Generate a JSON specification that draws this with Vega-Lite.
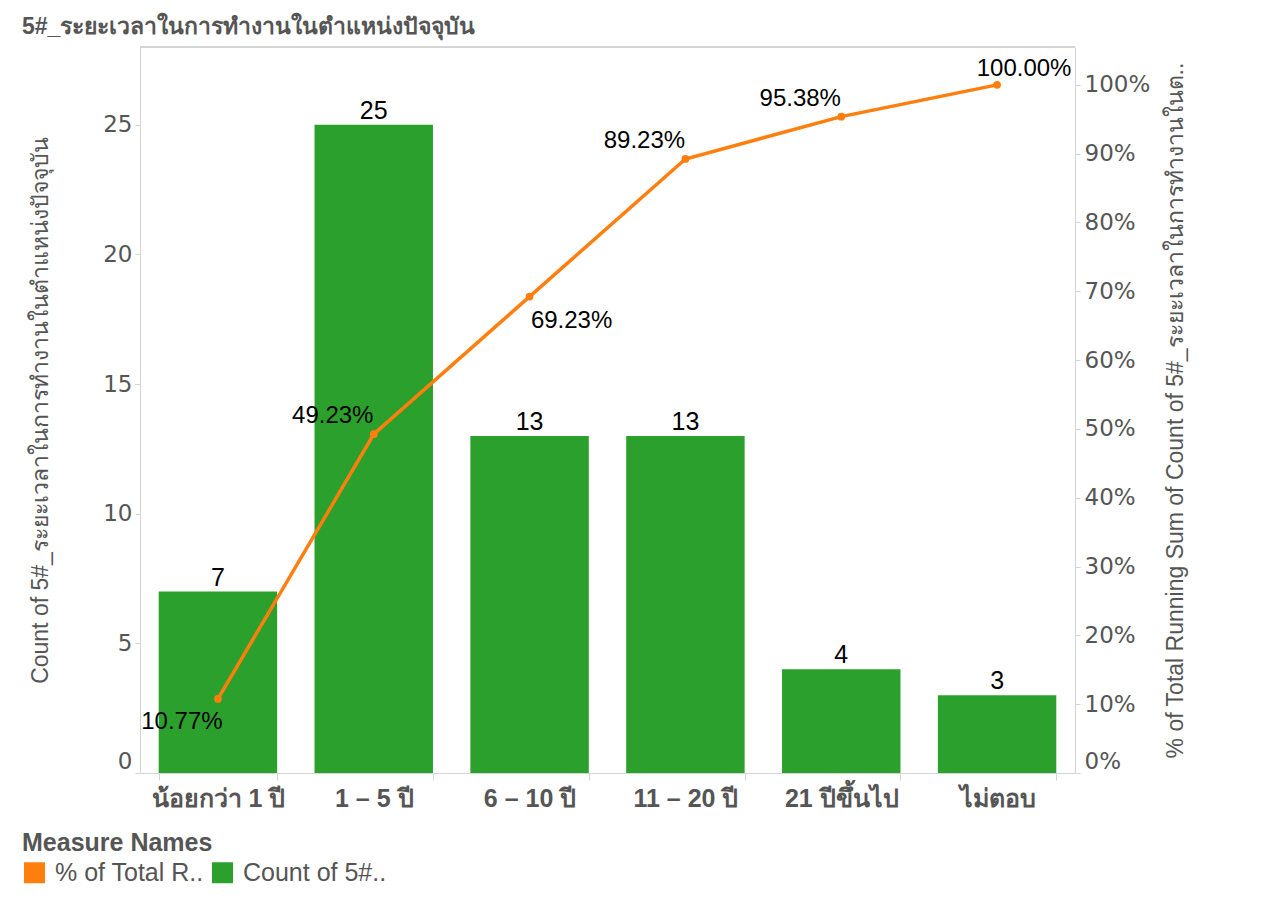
{
  "$schema": "https://vega.github.io/schema/vega-lite/v6.json",
  "width": 935,
  "height": 726,
  "autosize": {"type": "none"},
  "padding": {"left": 140, "top": 47, "right": 202, "bottom": 138},
  "background": "white",
  "title": {
    "text": "5#_ระยะเวลาในการทำงานในตำแหน่งปัจจุบัน",
    "anchor": "start",
    "frame": "group",
    "dx": -118,
    "offset": 8,
    "fontSize": 23,
    "fontWeight": "bold",
    "color": "#555555",
    "font": "Liberation Sans"
  },
  "config": {
    "view": {"stroke": null},
    "axis": {"grid": false, "domainColor": "#d4d4d4", "tickColor": "#d4d4d4", "labelColor": "#555555", "titleColor": "#555555", "labelFont": "DejaVu Sans", "titleFont": "Liberation Sans"}
  },
  "data": {
    "values": [
      {"cat": "น้อยกว่า 1 ปี", "count": 7, "cum": 0.1077},
      {"cat": "1 – 5 ปี", "count": 25, "cum": 0.4923},
      {"cat": "6 – 10 ปี", "count": 13, "cum": 0.6923},
      {"cat": "11 – 20 ปี", "count": 13, "cum": 0.8923},
      {"cat": "21 ปีขึ้นไป", "count": 4, "cum": 0.9538},
      {"cat": "ไม่ตอบ", "count": 3, "cum": 1.0}
    ]
  },
  "layer": [
    {
      "mark": {"type": "rule", "color": "#d4d4d4", "strokeWidth": 1},
      "encoding": {"y": {"datum": 28, "type": "quantitative", "scale": {"domain": [0, 28], "nice": false}, "axis": null}}
    },
    {
      "encoding": {
        "x": {
          "field": "cat",
          "type": "nominal",
          "sort": null,
          "scale": {"paddingInner": 0.24, "paddingOuter": 0.12},
          "axis": {"title": null, "labelAngle": 0, "labelFontSize": 25, "labelFontWeight": "bold", "labelFont": "Liberation Sans", "labelPadding": 6, "tickBand": "extent", "tickSize": 7, "domainColor": "#d4d4d4"}
        },
        "y": {
          "field": "count",
          "type": "quantitative",
          "scale": {"domain": [0, 28], "nice": false},
          "axis": {"title": "Count of 5#_ระยะเวลาในการทำงานในตำแหน่งปัจจุบัน", "values": [0, 5, 10, 15, 20, 25], "labelFontSize": 23, "labelFlush": true, "titleFontSize": 23, "titleFontWeight": "normal", "titleLimit": 760, "tickSize": 5, "labelPadding": 3, "titlePadding": 50}
        }
      },
      "layer": [
        {
          "mark": {"type": "bar"},
          "encoding": {
            "color": {
              "datum": "Count of 5#..",
              "type": "nominal",
              "title": "Measure Names",
              "scale": {"domain": ["% of Total R..", "Count of 5#.."], "range": ["#ff7f0e", "#2ca02c"]},
              "legend": {"orient": "none", "legendX": -118, "legendY": 784, "direction": "horizontal", "titleFontSize": 25, "titleFontWeight": "bold", "titleColor": "#555555", "titleFont": "Liberation Sans", "titleLimit": 400, "labelFontSize": 25, "labelColor": "#555555", "labelFont": "Liberation Sans", "labelLimit": 400, "symbolType": "square", "symbolSize": 440, "symbolStrokeWidth": 0, "columnPadding": 6, "labelOffset": 8, "titlePadding": 4}
            }
          }
        },
        {
          "mark": {"type": "text", "baseline": "bottom", "dy": -1, "fontSize": 25, "font": "Liberation Sans", "color": "black"},
          "encoding": {"text": {"field": "count", "type": "quantitative"}}
        }
      ]
    },
    {
      "encoding": {
        "x": {
          "field": "cat",
          "type": "nominal",
          "sort": null
        },
        "y": {
          "field": "cum",
          "type": "quantitative",
          "scale": {"domain": [0, 1.055], "nice": false},
          "axis": {"orient": "right", "title": "% of Total Running Sum of Count of 5#_ระยะเวลาในการทำงานในต..", "titleAngle": 270, "titleLimit": 760, "values": [0, 0.1, 0.2, 0.3, 0.4, 0.5, 0.6, 0.7, 0.8, 0.9, 1.0], "format": ".0%", "labelFontSize": 23, "labelFlush": true, "titleFontSize": 23, "titleFontWeight": "normal", "tickSize": 5, "labelPadding": 4, "titlePadding": 38}
        }
      },
      "layer": [
        {
          "mark": {"type": "line", "strokeWidth": 3.5, "point": {"filled": true, "size": 60}},
          "encoding": {"color": {"datum": "% of Total R..", "type": "nominal"}}
        },
        {
          "transform": [{"filter": "datum.cum > 0.3 && datum.cum < 0.6 || datum.cum > 0.8 && datum.cum < 0.99"}],
          "mark": {"type": "text", "dx": -41, "dy": -18, "fontSize": 24, "font": "Liberation Sans", "color": "black"},
          "encoding": {"text": {"field": "cum", "type": "quantitative", "format": ".2%"}}
        },
        {
          "transform": [{"filter": "datum.cum < 0.2"}],
          "mark": {"type": "text", "dx": -36, "dy": 23, "fontSize": 24, "font": "Liberation Sans", "color": "black"},
          "encoding": {"text": {"field": "cum", "type": "quantitative", "format": ".2%"}}
        },
        {
          "transform": [{"filter": "datum.cum > 0.6 && datum.cum < 0.8"}],
          "mark": {"type": "text", "dx": 42, "dy": 24, "fontSize": 24, "font": "Liberation Sans", "color": "black"},
          "encoding": {"text": {"field": "cum", "type": "quantitative", "format": ".2%"}}
        },
        {
          "transform": [{"filter": "datum.cum > 0.99"}],
          "mark": {"type": "text", "dx": 27, "dy": -16, "fontSize": 24, "font": "Liberation Sans", "color": "black"},
          "encoding": {"text": {"field": "cum", "type": "quantitative", "format": ".2%"}}
        }
      ]
    }
  ],
  "resolve": {"scale": {"y": "independent"}, "axis": {"y": "independent"}}
}
